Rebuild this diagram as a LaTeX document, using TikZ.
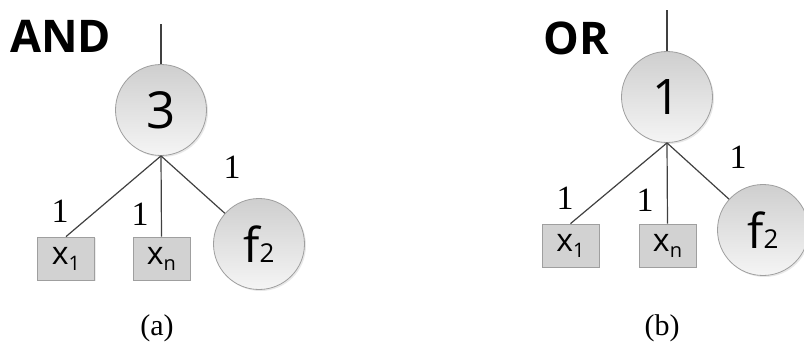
\documentclass[tikz,border=0pt]{standalone}
\usepackage{fontspec}
\setmainfont{Liberation Serif}
\newfontfamily\labsans{Open Sans}
\usetikzlibrary{shadows}
\newcommand{\fsz}[1]{\fontsize{#1}{#1}\selectfont}
\newcommand{\sub}[1]{\raisebox{-6pt}{\fsz{20}#1}}
\tikzset{
  gate/.style={circle, draw=gray!75, line width=0.8pt, minimum size=91pt, inner sep=0pt,
    top color=gray!38, bottom color=gray!8,
    drop shadow={opacity=0.18, shadow xshift=1.5pt, shadow yshift=-1.5pt},
    font=\labsans},
  leaf/.style={rectangle, draw=gray!75, line width=0.8pt, fill=gray!35, minimum width=57pt,
    minimum height=43pt, inner sep=0pt,
    drop shadow={opacity=0.15, shadow xshift=1.2pt, shadow yshift=-1.2pt},
    font=\labsans},
  wire/.style={draw=black!75, line width=1.2pt},
  weight/.style={font=\fsz{34}},
  title/.style={font=\labsans\bfseries\fsz{45}, anchor=base west, inner sep=0pt},
  caption/.style={font=\fsz{30}}
}
\begin{document}
\begin{tikzpicture}[x=1pt,y=1pt]
\useasboundingbox (0,0) rectangle (804,-345);

% ---- (a) AND gate ----
\node[title] (tand) at (10,-53) {AND};
\node[gate] (ga) at (161,-110) {\fsz{51}3};
\coordinate (ina) at (161,-24);
\node[leaf] (a1) at (66,-258.5) {\fsz{32}x\sub{1}};
\node[leaf] (an) at (161.5,-258.5) {\fsz{32}x\sub{n}};
\node[gate] (af) at (259,-244) {\fsz{48}f\fsz{26}2};
\draw[wire] (ga.north) -- (ina);
\draw[wire] (ga.south) -- (a1.north);
\draw[wire] (ga.south) -- (an.north);
\draw[wire] (ga.south) -- (af);
\node[weight] (wa1) at (60,-211) {1};
\node[weight] (wan) at (140,-214) {1};
\node[weight] (waf) at (232,-167) {1};
\node[caption] (capa) at (157,-328) {(a)};

% ---- (b) OR gate ----
\node[title] (tor) at (543,-55) {OR};
\node[gate] (gb) at (667,-97) {\fsz{49}1};
\coordinate (inb) at (667,-10);
\node[leaf] (b1) at (570.5,-245.5) {\fsz{32}x\sub{1}};
\node[leaf] (bn) at (667.5,-245.5) {\fsz{32}x\sub{n}};
\node[gate] (bf) at (763,-230) {\fsz{48}f\fsz{26}2};
\draw[wire] (gb.north) -- (inb);
\draw[wire] (gb.south) -- (b1.north);
\draw[wire] (gb.south) -- (bn.north);
\draw[wire] (gb.south) -- (bf);
\node[weight] (wb1) at (565,-198) {1};
\node[weight] (wbn) at (645,-200) {1};
\node[weight] (wbf) at (738,-157) {1};
\node[caption] (capb) at (662,-328) {(b)};
\end{tikzpicture}
\end{document}
